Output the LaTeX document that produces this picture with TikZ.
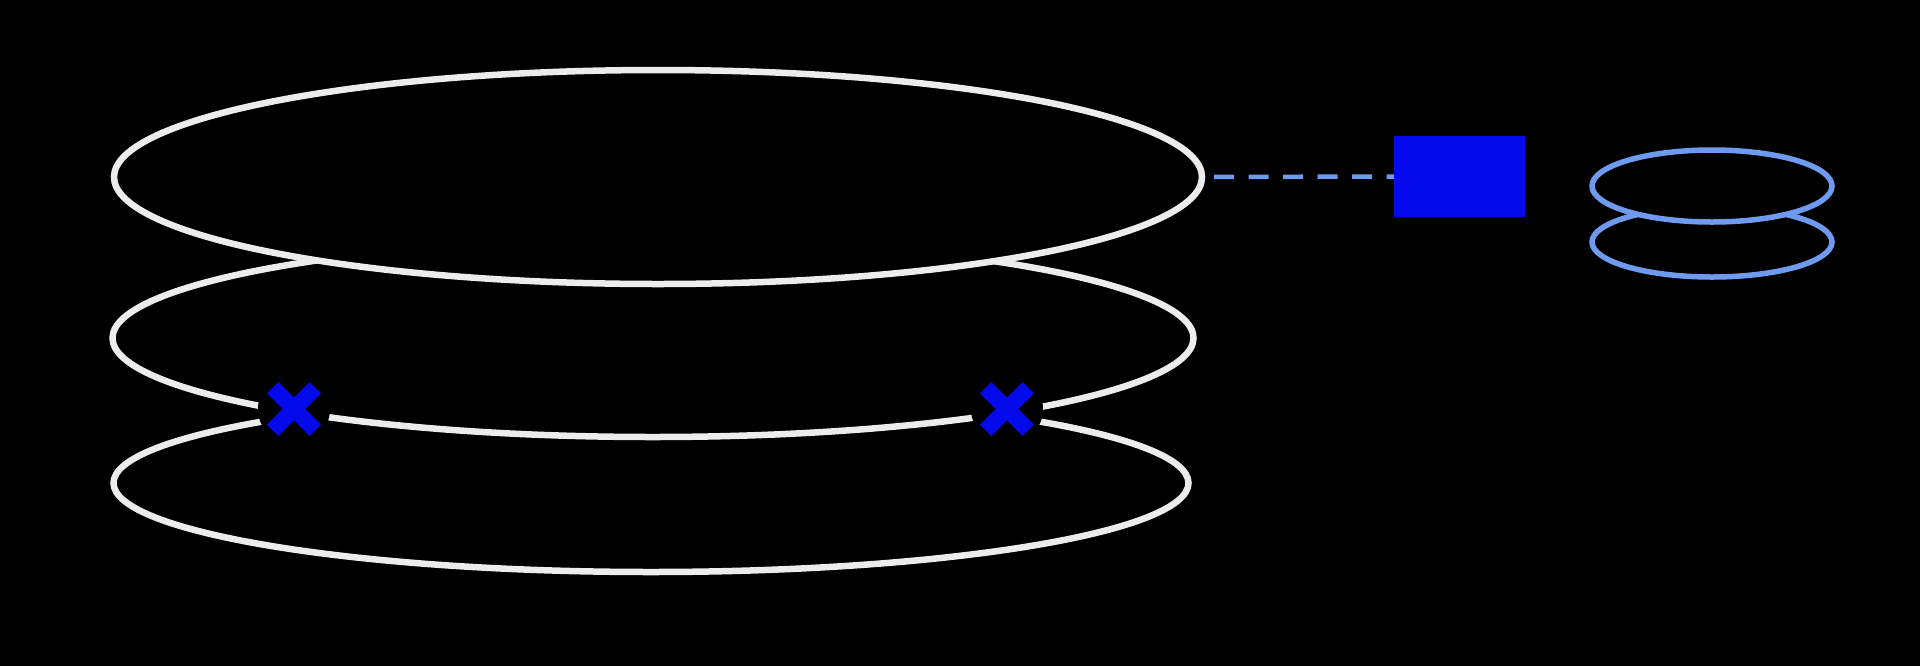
\documentclass[tikz,border=0pt]{standalone}
\usepackage{tikz}
\usetikzlibrary{shapes.geometric}
\definecolor{ringwhite}{RGB}{236,236,236}
\definecolor{markblue}{RGB}{4,10,236}
\definecolor{lightblue}{RGB}{110,155,240}
\tikzset{
  ring/.style={ellipse,draw=ringwhite,line width=6.5pt,inner sep=0pt,outer sep=0pt},
  smallring/.style={ellipse,draw=lightblue,line width=5.5pt,inner sep=0pt,outer sep=0pt},
  xmark/.style={circle,fill=black,minimum size=72pt,inner sep=0pt,
    path picture={\draw[markblue,line width=16pt]
      ([shift={(-21.3pt,-21.3pt)}]path picture bounding box.center) -- ([shift={(21.3pt,21.3pt)}]path picture bounding box.center)
      ([shift={(-21.3pt,21.3pt)}]path picture bounding box.center) -- ([shift={(21.3pt,-21.3pt)}]path picture bounding box.center);}},
  linkbox/.style={rectangle,fill=markblue,minimum width=131pt,minimum height=81pt,inner sep=0pt}
}
\begin{document}
\begin{tikzpicture}[x=1pt,y=-1pt]
\useasboundingbox (0,0) rectangle (1920,665);
\fill[black] (-5,-5) rectangle (1925,670);
\node[ring,minimum width=1075pt,minimum height=178pt] (low) at (651,483) {};
\node[ring,fill=black,minimum width=1081pt,minimum height=198pt] (mid) at (653,338) {};
\node[ring,fill=black,minimum width=1088pt,minimum height=214pt] (up) at (658,177) {};
\node[xmark] (crossl) at (294,409) {};
\node[xmark] (crossr) at (1007,409) {};
\node[linkbox] (box) at (1459.5,176.5) {};
\draw[lightblue,line width=4.5pt,dash pattern=on 20pt off 14.5pt,shorten <=12pt] (up.east) -- (box.west);
\node[smallring,minimum width=240pt,minimum height=70pt] (smalllow) at (1712,242) {};
\node[smallring,fill=black,minimum width=240pt,minimum height=72pt] (smallup) at (1712,186) {};
\end{tikzpicture}
\end{document}
